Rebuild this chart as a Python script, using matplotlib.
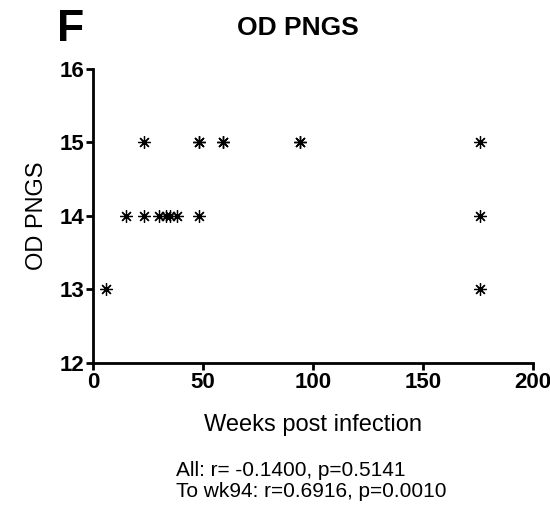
import matplotlib
matplotlib.use('Agg')
import matplotlib.pyplot as plt

plt.rcParams['font.family'] = ['Liberation Sans', 'DejaVu Sans']

# Data
weeks = [6, 15, 23, 30, 33, 35, 38, 48, 23, 48, 48, 59, 59, 94, 94, 176, 176, 176]
od_pngs = [13, 14, 14, 14, 14, 14, 14, 14, 15, 15, 15, 15, 15, 15, 15, 15, 14, 13]

x_ticks = [0, 50, 100, 150, 200]
y_ticks = [12, 13, 14, 15, 16]
stats_lines = ['All: r= -0.1400, p=0.5141', 'To wk94: r=0.6916, p=0.0010']

fig = plt.figure(figsize=(5.5, 5.07), dpi=100)
ax = fig.add_axes([0.169, 0.284, 0.8, 0.58])

ax.plot(weeks, od_pngs, linestyle='none', marker=(8, 2, 0), markersize=9,
        markeredgewidth=0.9, color='black')

ax.set_xlim(0, 200)
ax.set_ylim(12, 16)
ax.set_xticks(x_ticks)
ax.set_yticks(y_ticks)
for s in ['top', 'right']:
    ax.spines[s].set_visible(False)
for s in ['left', 'bottom']:
    ax.spines[s].set_linewidth(2)
ax.tick_params(width=2, length=5, labelsize=16, pad=1.5)
for lbl in ax.get_xticklabels() + ax.get_yticklabels():
    lbl.set_fontweight('bold')

ax.set_xlabel('Weeks post infection', fontsize=17, labelpad=15)
ax.set_ylabel('OD PNGS', fontsize=17, labelpad=8)

fig.text(0.541, 0.931, 'OD PNGS', fontsize=19, fontweight='bold',
         ha='center', va='baseline')
fig.text(0.103, 0.919, 'F', fontsize=32, fontweight='bold', va='baseline', ha='left')
fig.text(0.32, 0.051, stats_lines[0] + '\n' + stats_lines[1], fontsize=15,
         ha='left', va='center', linespacing=1.15)

fig.savefig('out.png', dpi=100)
